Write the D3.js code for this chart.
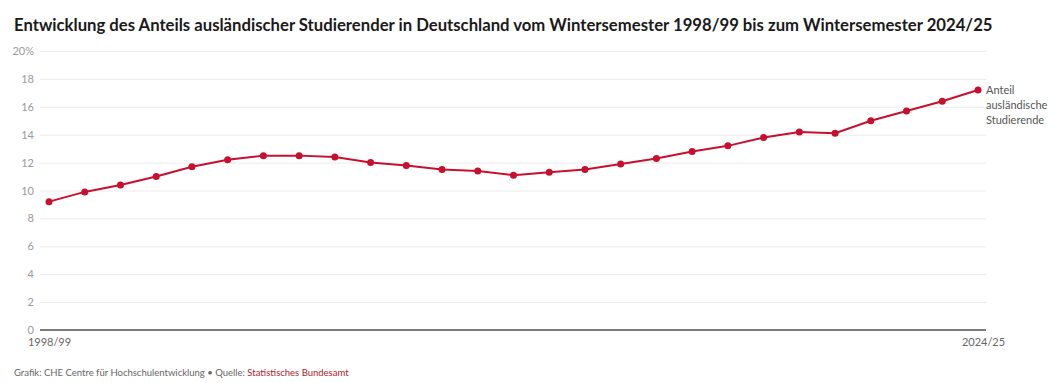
<!DOCTYPE html>
<html><head><meta charset="utf-8">
<script src="https://cdn.jsdelivr.net/npm/d3@7"></script>
<style>body{margin:0;background:#fff}svg{display:block}</style>
</head><body>
<svg id="c" width="1062" height="383"></svg>
<script>
const semesters = ["1998/99","1999/00","2000/01","2001/02","2002/03","2003/04","2004/05","2005/06","2006/07","2007/08","2008/09","2009/10","2010/11","2011/12","2012/13","2013/14","2014/15","2015/16","2016/17","2017/18","2018/19","2019/20","2020/21","2021/22","2022/23","2023/24","2024/25"];
const shares = [9.2,9.9,10.4,11.0,11.7,12.2,12.5,12.5,12.4,12.0,11.8,11.5,11.4,11.1,11.3,11.5,11.9,12.3,12.8,13.2,13.8,14.2,14.1,15.0,15.7,16.4,17.2];
const yTicks = [0,2,4,6,8,10,12,14,16,18,20];
const xTickLabels = ["1998/99","2024/25"];
const seriesLabel = ["Anteil","ausländische","Studierende"];

const svg = d3.select("#c");
const font = "Lato, 'Open Sans', sans-serif";
const red = "#c8102e";

const x = d3.scalePoint().domain(semesters).range([49, 978]);
const y = d3.scaleLinear().domain([0, 20]).range([330, 51]);
const gx0 = 40, gx1 = 986;

const title = svg.append("text").attr("x", 14).attr("y", 31)
  .attr("font-family", font).attr("font-weight", 700).attr("font-size", 18)
  .attr("fill", "#1a1a1a")
  .text("Entwicklung des Anteils ausländischer Studierender in Deutschland vom Wintersemester 1998/99 bis zum Wintersemester 2024/25");
const tw = title.node().getComputedTextLength();
title.attr("font-size", 18 * 979 / tw);

// grid
const yAxis = d3.axisLeft(y).tickValues(yTicks).tickSize(-(gx1 - gx0)).tickPadding(6)
  .tickFormat(d => d === 20 ? "20%" : d);
const ga = svg.append("g").attr("transform", `translate(${gx0},0)`).call(yAxis);
ga.select(".domain").remove();
ga.selectAll(".tick line").attr("stroke", "#ebebeb").attr("stroke-width", 1);
ga.selectAll(".tick text").attr("font-family", font).attr("font-size", 11).attr("fill", "#9a9a9a").attr("dy", "0.32em");

// baseline
svg.append("line").attr("x1", gx0).attr("x2", gx1).attr("y1", y(0)).attr("y2", y(0))
  .attr("stroke", "#555").attr("stroke-width", 1.5);

// x labels
const xAxis = d3.axisBottom(x).tickValues(xTickLabels).tickSize(0).tickPadding(8);
const gb = svg.append("g").attr("transform", `translate(0,${y(0)})`).call(xAxis);
gb.select(".domain").remove();
gb.selectAll(".tick text").attr("font-family", font).attr("font-size", 11).attr("fill", "#666");
gb.selectAll(".tick").filter(d => d === "2024/25").select("text").attr("dx", 5);

const data = semesters.map((s, i) => ({s, v: shares[i]}));
svg.append("path").datum(data)
  .attr("d", d3.line().x(d => x(d.s)).y(d => y(d.v)))
  .attr("fill", "none").attr("stroke", red).attr("stroke-width", 2);
svg.append("g").selectAll("circle").data(data).join("circle")
  .attr("cx", d => x(d.s)).attr("cy", d => y(d.v)).attr("r", 3.5).attr("fill", red);

// series label
const last = data[data.length - 1];
svg.append("text").attr("x", x(last.s) + 8).attr("y", y(last.v) + 4)
  .attr("font-family", font).attr("font-size", 11).attr("fill", "#555")
  .selectAll("tspan").data(seriesLabel).join("tspan")
  .attr("x", x(last.s) + 8).attr("dy", (d, i) => i === 0 ? 0 : 15).text(d => d);

// footer
const ft = svg.append("text").attr("x", 14).attr("y", 376)
  .attr("font-family", font).attr("font-size", 9.5).attr("fill", "#666");
ft.append("tspan").text("Grafik: CHE Centre für Hochschulentwicklung • Quelle: ");
ft.append("tspan").attr("fill", "#b0202a").text("Statistisches Bundesamt");
</script>
</body></html>
